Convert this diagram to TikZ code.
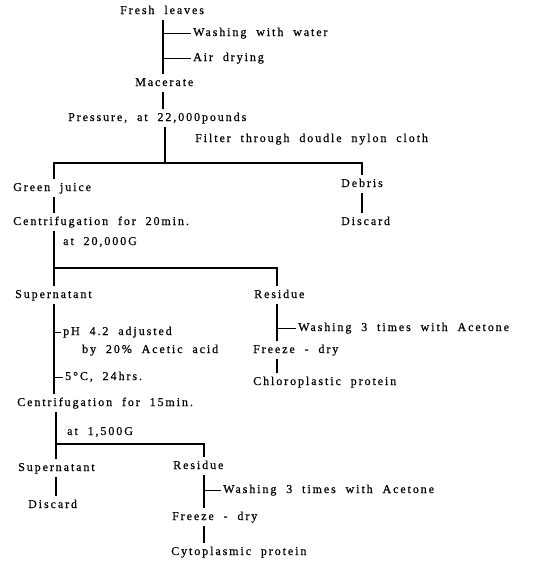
\documentclass[tikz,border=0pt]{standalone}
\usepackage{fontspec}
\setmainfont{Liberation Serif}[LetterSpace=16, WordSpace=2.0, FakeBold=0.5]
\usetikzlibrary{positioning}

\tikzset{
  stage/.style={anchor=west, inner xsep=0pt, inner ysep=4pt, text height=8pt, text depth=2pt, font=\fontsize{12}{14}\selectfont},
  flow/.style={line width=1.1pt},
  twig/.style={line width=0.9pt, shorten >=2pt},
}

\begin{document}
\begin{tikzpicture}[x=1pt, y=1pt]
\useasboundingbox (0,0) rectangle (535,-562);

% steps of the procedure: name / left edge / depth / text
\foreach \name/\x/\y/\txt in {
  fresh/120/11/{Fresh leaves},
  washW/193/33/{Washing with water},
  airdry/193/58/{Air drying},
  macer/135/83/{Macerate},
  press/68/118/{Pressure, at 22,000pounds},
  filter/195/139/{Filter through doudle nylon cloth},
  juice/13/188/{Green juice},
  debris/341/184/{Debris},
  centA/13/222/{Centrifugation for 20min.},
  discA/341/222/{Discard},
  gA/63/242/{at 20,000G},
  supA/15/295/{Supernatant},
  resA/254/295/{Residue},
  ph/63/332/{pH 4.2 adjusted},
  acid/82/350/{by 20\% Acetic acid},
  cold/65/377/{5\,°C, 24\,hrs.},
  washA/298/328/{Washing 3 times with Acetone},
  frzA/253/350/{Freeze - dry},
  chloro/253/382/{Chloroplastic protein},
  centB/17/403/{Centrifugation for 15min.},
  gB/67/432/{at 1,500G},
  supB/18/468/{Supernatant},
  resB/173/466/{Residue},
  discB/28/505/{Discard},
  washB/223/490/{Washing 3 times with Acetone},
  frzB/172/517/{Freeze - dry},
  cyto/171/552/{Cytoplasmic protein}} {
  \node[stage] (\name) at (\x,-\y) {\txt};
}

% columns of the vertical lines
\coordinate (top) at (163,0);
\coordinate (mid) at (165,0);
\coordinate (left) at (54,0);
\coordinate (leftB) at (56,0);
\coordinate (deb) at (362,0);
\coordinate (resx) at (277,0);
\coordinate (resy) at (204,0);

% fresh leaves to pressing
\draw[flow] (fresh.south -| top) -- (macer.north -| top);
\draw[twig] (washW.west -| top) -- (washW.west);
\draw[twig] (airdry.west -| top) -- (airdry.west);
\draw[flow] (macer.south -| top) -- (press.north -| top);

% filtering
\coordinate (splitF) at (165,-163);
\draw[flow] (press.south -| mid) -- (splitF);
\draw[flow] (juice.north -| left) |- (splitF) -| (debris.north -| deb);
\draw[flow] (debris.south -| deb) -- (discA.north -| deb);
\draw[flow] (juice.south -| left) -- (centA.north -| left);

% first centrifugation
\coordinate (splitA) at (54,-268);
\draw[flow] (centA.south -| left) -- (supA.north -| left);
\draw[flow] (splitA) -| (resA.north -| resx);

% supernatant, acid precipitation
\draw[flow] (supA.south -| left) -- (centB.north -| left);
\draw[twig] (ph.west -| left) -- (ph.west);
\draw[twig] (cold.west -| left) -- (cold.west);

% residue, chloroplastic protein
\draw[flow] (resA.south -| resx) -- (frzA.north -| resx);
\draw[twig] (washA.west -| resx) -- (washA.west);
\draw[flow] (frzA.south -| resx) -- (chloro.north -| resx);

% second centrifugation
\coordinate (splitB) at (56,-444);
\draw[flow] (centB.south -| leftB) -- (supB.north -| leftB);
\draw[flow] (splitB) -| (resB.north -| resy);
\draw[flow] (supB.south -| leftB) -- (discB.north -| leftB);

% residue, cytoplasmic protein
\draw[flow] (resB.south -| resy) -- (frzB.north -| resy);
\draw[twig] (washB.west -| resy) -- (washB.west);
\draw[flow] (frzB.south -| resy) -- (cyto.north -| resy);
\end{tikzpicture}
\end{document}
